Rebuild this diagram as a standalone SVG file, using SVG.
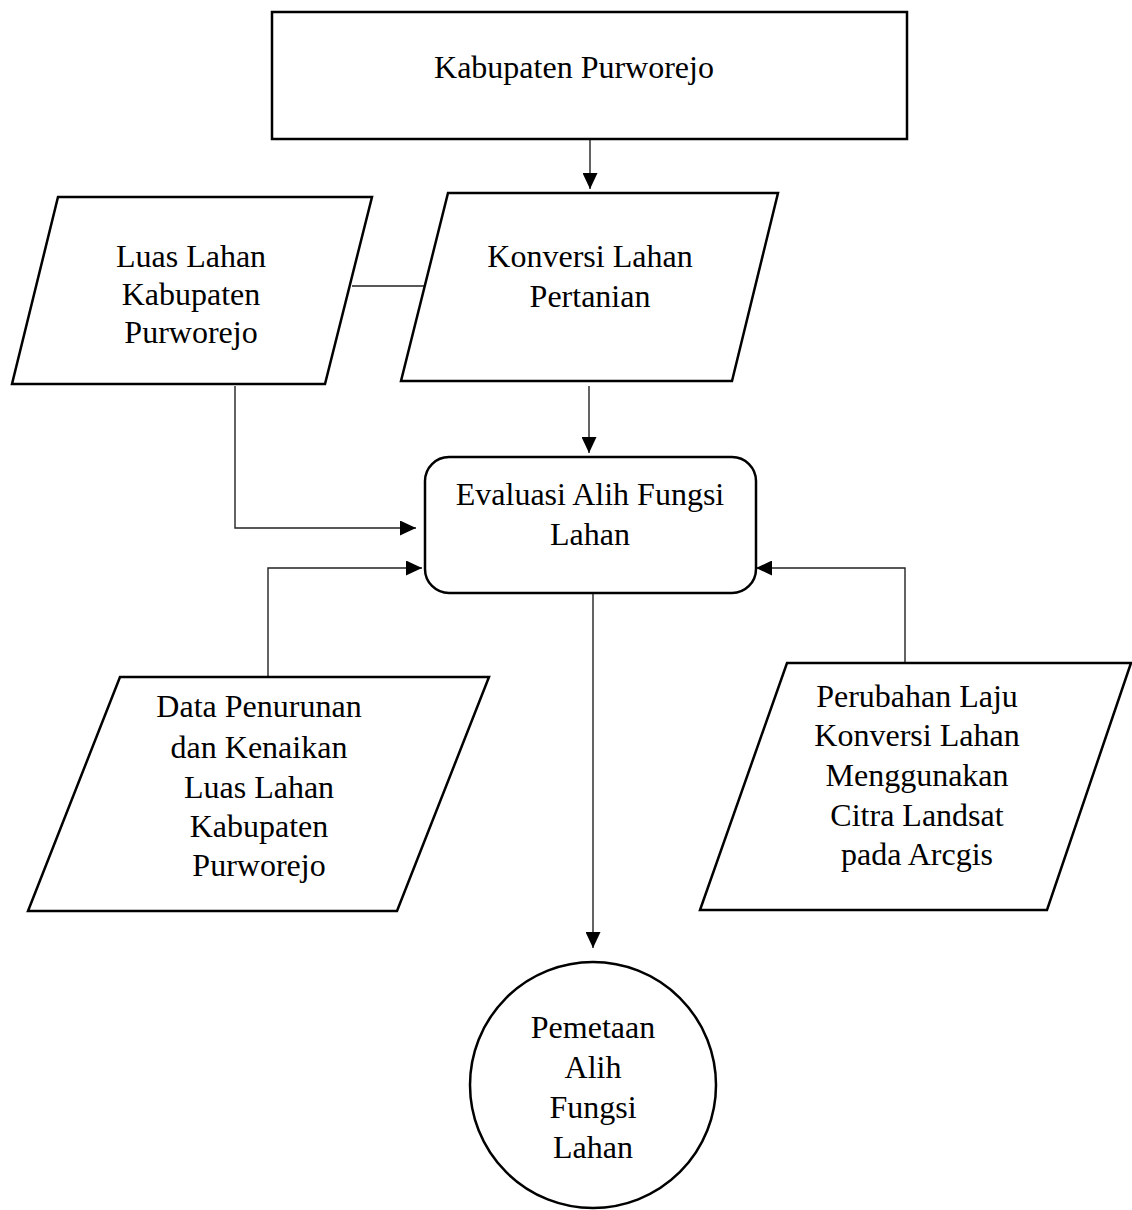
<svg xmlns="http://www.w3.org/2000/svg" width="1132" height="1210" viewBox="0 0 1132 1210">
<style>
.shape{fill:#fff;stroke:#000;stroke-width:2.5}
.conn{fill:none;stroke:#222;stroke-width:1.4}
text{font-family:"Liberation Serif","Times New Roman",serif;font-size:32px;fill:#000;text-anchor:middle}
</style>
<defs>
<marker id="arr" markerUnits="userSpaceOnUse" markerWidth="16" markerHeight="15" refX="16" refY="7.5" orient="auto">
<path d="M0,0 L16,7.5 L0,15 Z" fill="#000"/>
</marker>
</defs>
<rect width="1132" height="1210" fill="#fff"/>
<g id="connectors">
<line class="conn" x1="590" y1="140" x2="590" y2="189" marker-end="url(#arr)"/>
<line class="conn" x1="352" y1="286" x2="430" y2="286"/>
<line class="conn" x1="589" y1="386" x2="589" y2="453" marker-end="url(#arr)"/>
<polyline class="conn" points="235,386 235,528 416,528" marker-end="url(#arr)"/>
<polyline class="conn" points="268,676 268,568 422,568" marker-end="url(#arr)"/>
<polyline class="conn" points="905,663 905,568 756,568" marker-end="url(#arr)"/>
<line class="conn" x1="593" y1="594" x2="593" y2="948" marker-end="url(#arr)"/>
</g>
<g id="node-kabupaten">
<rect class="shape" x="272" y="12" width="635" height="127"/>
<text x="574" y="78">Kabupaten Purworejo</text>
</g>
<g id="node-luas">
<polygon class="shape" points="58,197 372,197 325,384 12,384"/>
<text x="191" y="267">Luas Lahan</text>
<text x="191" y="305">Kabupaten</text>
<text x="191" y="343">Purworejo</text>
</g>
<g id="node-konversi">
<polygon class="shape" points="448,193 778,193 732,381 401,381"/>
<text x="590" y="267">Konversi Lahan</text>
<text x="590" y="307">Pertanian</text>
</g>
<g id="node-evaluasi">
<rect class="shape" x="425" y="457" width="331" height="136" rx="24" ry="24"/>
<text x="590" y="505">Evaluasi Alih Fungsi</text>
<text x="590" y="545">Lahan</text>
</g>
<g id="node-data">
<polygon class="shape" points="120,677 489,677 397,911 28,911"/>
<text x="259" y="717">Data Penurunan</text>
<text x="259" y="758">dan Kenaikan</text>
<text x="259" y="798">Luas Lahan</text>
<text x="259" y="837">Kabupaten</text>
<text x="259" y="876">Purworejo</text>
</g>
<g id="node-perubahan">
<polygon class="shape" points="787,663 1131,663 1047,910 700,910"/>
<text x="917" y="707">Perubahan Laju</text>
<text x="917" y="746">Konversi Lahan</text>
<text x="917" y="786">Menggunakan</text>
<text x="917" y="826">Citra Landsat</text>
<text x="917" y="865">pada Arcgis</text>
</g>
<g id="node-pemetaan">
<circle class="shape" cx="593" cy="1085" r="123"/>
<text x="593" y="1038">Pemetaan</text>
<text x="593" y="1078">Alih</text>
<text x="593" y="1118">Fungsi</text>
<text x="593" y="1158">Lahan</text>
</g>
</svg>
